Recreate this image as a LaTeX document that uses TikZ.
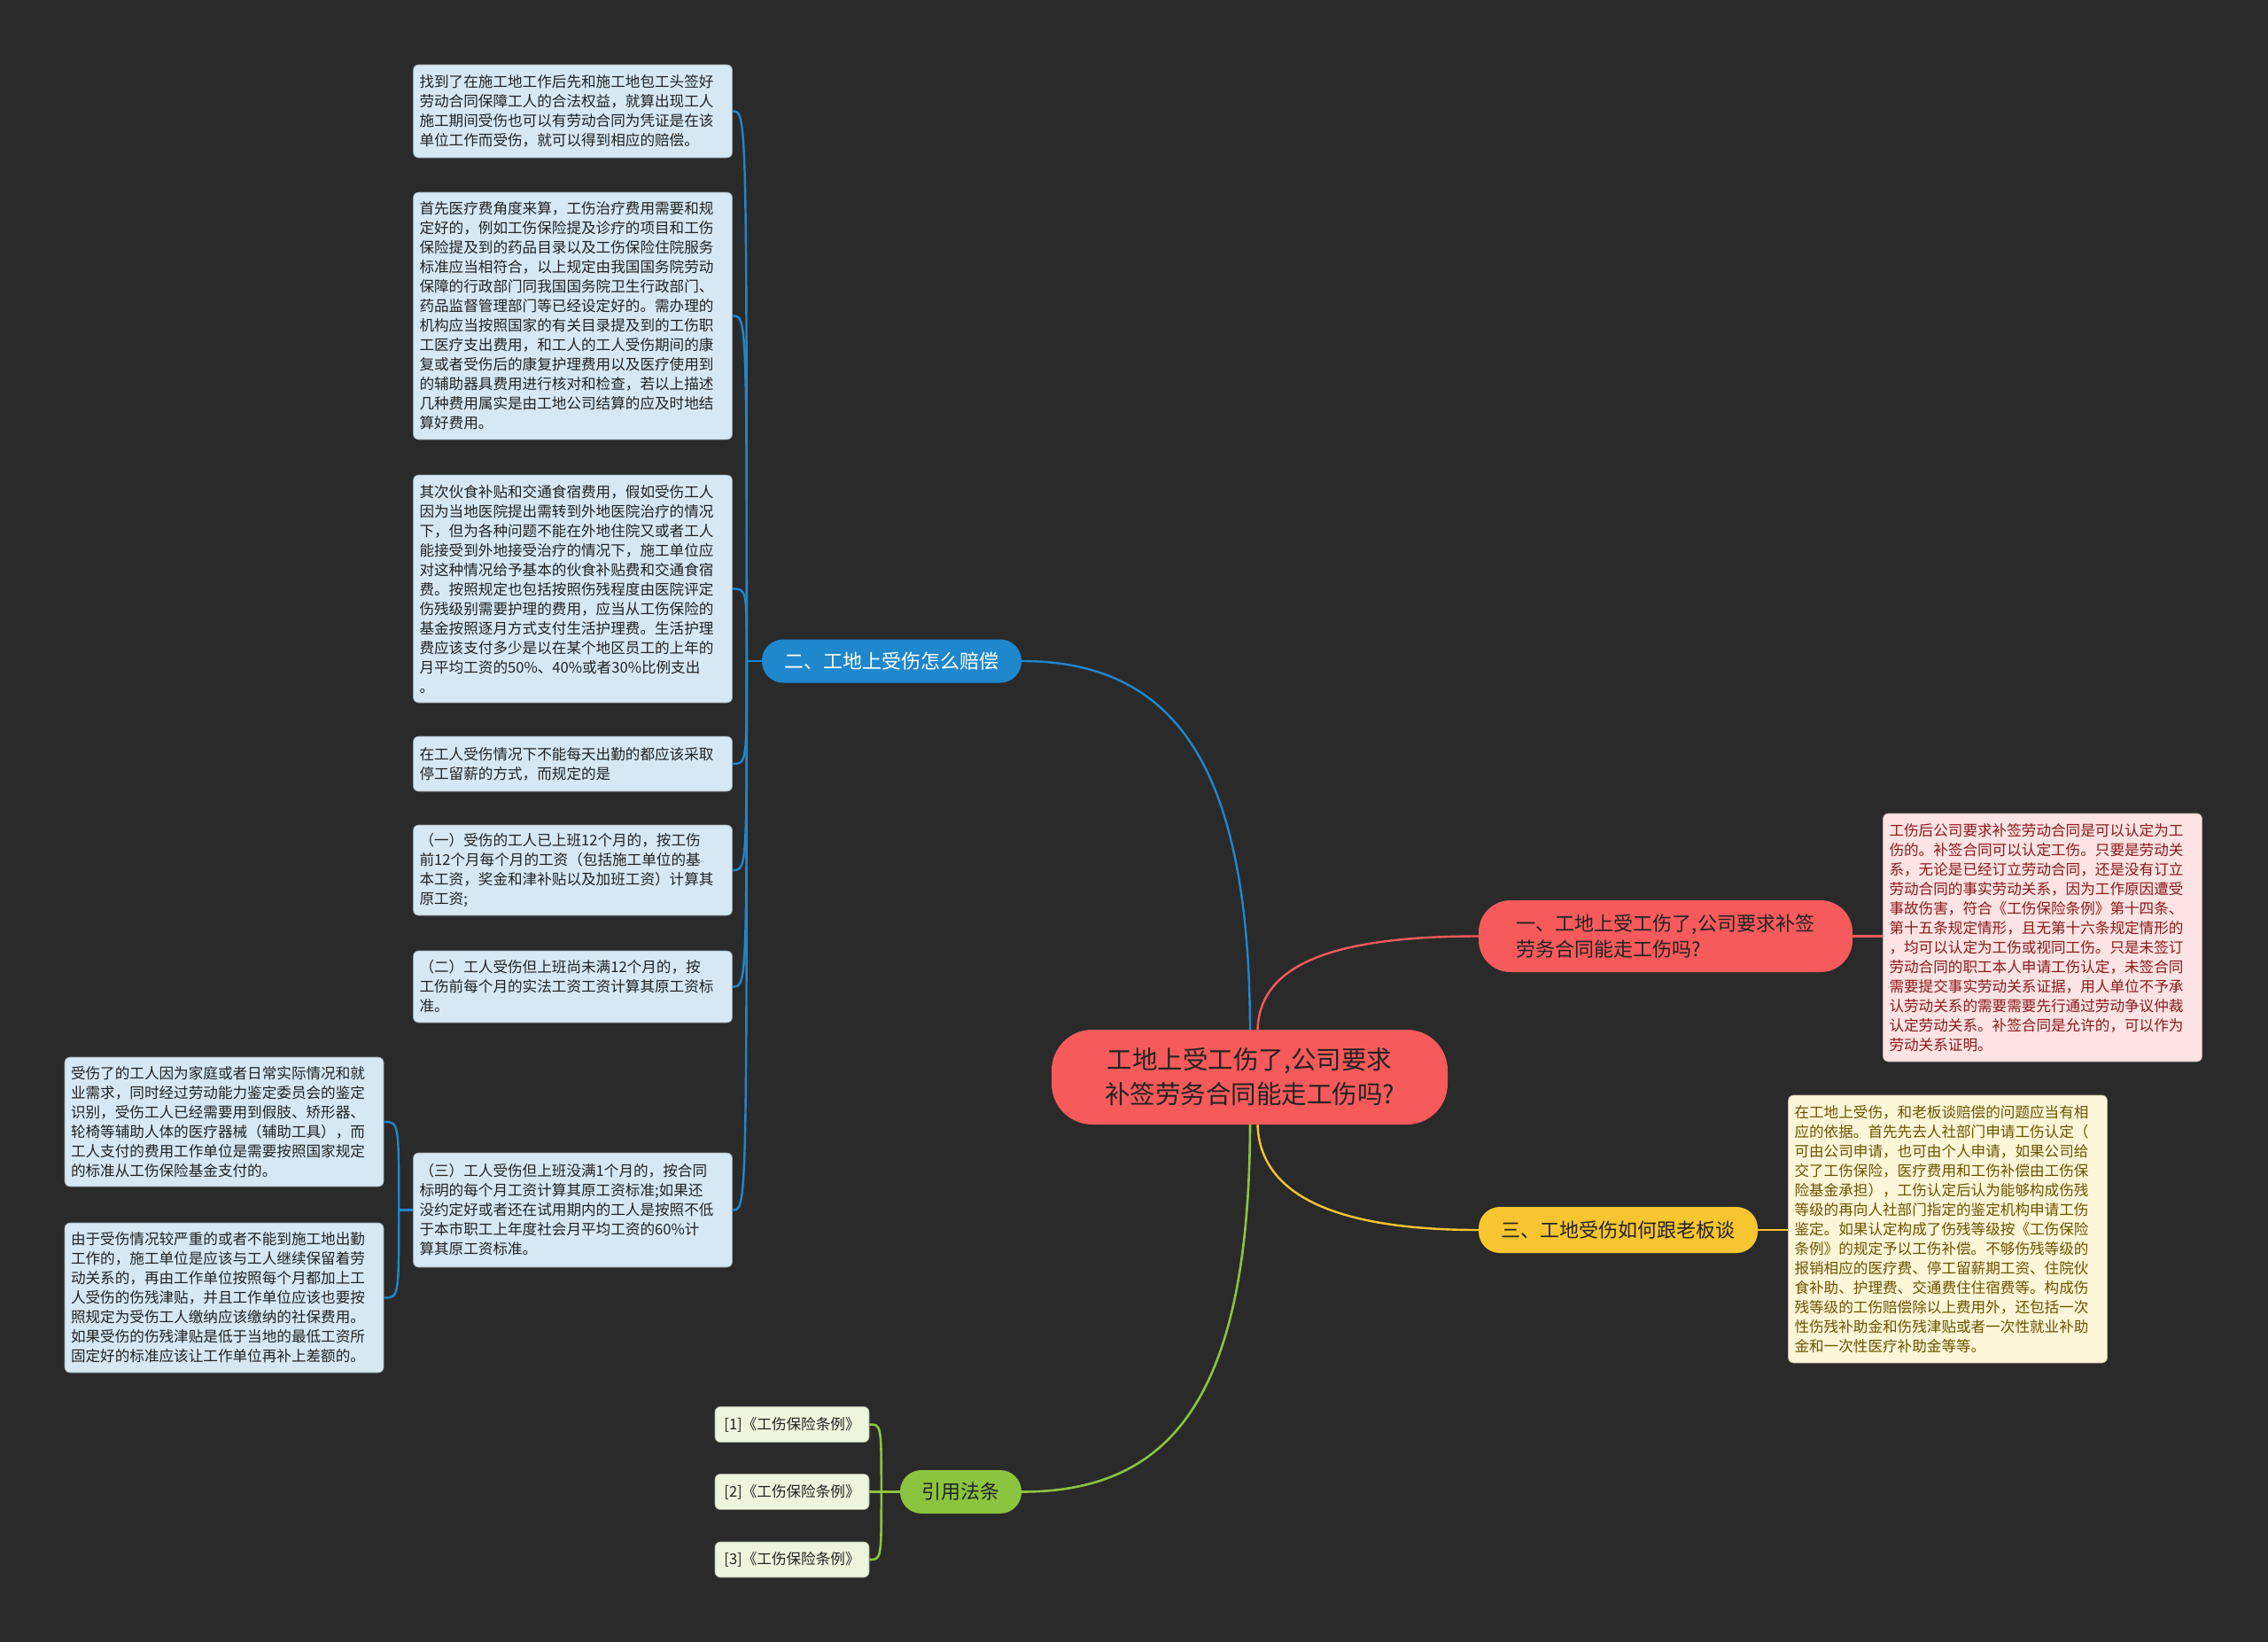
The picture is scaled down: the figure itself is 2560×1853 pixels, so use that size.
\documentclass[tikz,border=0pt]{standalone}
\usepackage{fontspec}
\newfontfamily\cjk{Noto Sans CJK SC}
\definecolor{bg}{HTML}{2A2A2A}
\definecolor{cred}{HTML}{F65A5B}
\definecolor{cblue}{HTML}{1F87CC}
\definecolor{cyel}{HTML}{F7C52F}
\definecolor{cgreen}{HTML}{8BC43F}
\definecolor{lblue}{HTML}{D5E8F4}
\definecolor{lpink}{HTML}{FDE3E3}
\definecolor{lyel}{HTML}{FEF6D8}
\definecolor{lgreen}{HTML}{EEF5DD}
\definecolor{tpink}{HTML}{8B1A1A}
\definecolor{tyel}{HTML}{6B5300}
\definecolor{tdark}{HTML}{222222}
\tikzset{
  leafbox/.style={rounded corners=6pt, inner xsep=7pt, inner ysep=0pt, text width=346pt, align=left,
     font=\cjk\fontsize{16.6}{22}\selectfont, text=tdark},
  bleaf/.style={leafbox, fill=lblue, draw=lblue!70!black, line width=0.6pt},
  pleaf/.style={leafbox, fill=lpink, draw=lpink!75!black, line width=0.6pt, text=tpink},
  yleaf/.style={leafbox, fill=lyel, draw=lyel!75!black, line width=0.6pt, text=tyel},
  gleaf/.style={rounded corners=6pt, fill=lgreen, draw=lgreen!70!black, line width=0.6pt, minimum width=174pt, minimum height=40pt,
     inner sep=0pt, font=\cjk\fontsize{16.6}{22}\selectfont, text=tdark},
  branch/.style={rounded corners=24pt, inner sep=0pt, align=left, font=\cjk\fontsize{22}{29.5}\selectfont},
  bline/.style={cblue, line width=2.4pt},
  rline/.style={cred, line width=2.4pt},
  yline/.style={cyel, line width=2.4pt},
  gline/.style={cgreen, line width=2.6pt},
}
\begin{document}
\begin{tikzpicture}[x=1pt,y=-1pt]
\useasboundingbox (0,0) rectangle (2560,1853);
\fill[bg] (0,0) rectangle (2560,1853);

% center and branches
\node[branch, fill=cred, rounded corners=46pt, minimum width=447pt, minimum height=107pt, align=center,
  font=\cjk\fontsize{28.5}{39}\selectfont, text=tdark] (c) at (1410.5,1215.5) {工地上受工伤了,公司要求\\补签劳务合同能走工伤吗?};
\node[branch, fill=cblue, minimum width=293pt, minimum height=49pt, text=white, align=center] (b2) at (1006.5,746) {二、工地上受伤怎么赔偿};
\node[branch, fill=cred, minimum width=422pt, minimum height=81pt, rounded corners=36pt, text=tdark] (b1) at (1880,1056.5) {一、工地上受工伤了,公司要求补签\\劳务合同能走工伤吗?};
\node[branch, fill=cyel, minimum width=315pt, minimum height=52pt, text=tdark, align=center] (b3) at (1826.5,1388) {三、工地受伤如何跟老板谈};
\node[branch, fill=cgreen, minimum width=137pt, minimum height=49pt, text=tdark, align=center] (b4) at (1084.5,1683.5) {引用法条};

% blue leaves
\node[bleaf, minimum height=105pt] (l1) at (646.5,125.5) {找到了在施工地工作后先和施工地包工头签好\\劳动合同保障工人的合法权益，就算出现工人\\施工期间受伤也可以有劳动合同为凭证是在该\\单位工作而受伤，就可以得到相应的赔偿。};
\node[bleaf, minimum height=279pt] (l2) at (646.5,356.5) {首先医疗费角度来算，工伤治疗费用需要和规\\定好的，例如工伤保险提及诊疗的项目和工伤\\保险提及到的药品目录以及工伤保险住院服务\\标准应当相符合，以上规定由我国国务院劳动\\保障的行政部门同我国国务院卫生行政部门、\\药品监督管理部门等已经设定好的。需办理的\\机构应当按照国家的有关目录提及到的工伤职\\工医疗支出费用，和工人的工人受伤期间的康\\复或者受伤后的康复护理费用以及医疗使用到\\的辅助器具费用进行核对和检查，若以上描述\\几种费用属实是由工地公司结算的应及时地结\\算好费用。};
\node[bleaf, minimum height=257pt] (l3) at (646.5,664.5) {其次伙食补贴和交通食宿费用，假如受伤工人\\因为当地医院提出需转到外地医院治疗的情况\\下，但为各种问题不能在外地住院又或者工人\\能接受到外地接受治疗的情况下，施工单位应\\对这种情况给予基本的伙食补贴费和交通食宿\\费。按照规定也包括按照伤残程度由医院评定\\伤残级别需要护理的费用，应当从工伤保险的\\基金按照逐月方式支付生活护理费。生活护理\\费应该支付多少是以在某个地区员工的上年的\\月平均工资的50\%、40\%或者30\%比例支出\\。};
\node[bleaf, minimum height=62pt] (l4) at (646.5,862) {在工人受伤情况下不能每天出勤的都应该采取\\停工留薪的方式，而规定的是};
\node[bleaf, minimum height=102pt] (l5) at (646.5,982) {（一）受伤的工人已上班12个月的，按工伤\\前12个月每个月的工资（包括施工单位的基\\本工资，奖金和津补贴以及加班工资）计算其\\原工资;};
\node[bleaf, minimum height=81pt] (l6) at (646.5,1113.5) {（二）工人受伤但上班尚未满12个月的，按\\工伤前每个月的实法工资工资计算其原工资标\\准。};
\node[bleaf, minimum height=129pt] (l7) at (646.5,1365.5) {（三）工人受伤但上班没满1个月的，按合同\\标明的每个月工资计算其原工资标准;如果还\\没约定好或者还在试用期内的工人是按照不低\\于本市职工上年度社会月平均工资的60\%计\\算其原工资标准。};

% second level leaves
\node[bleaf, minimum height=146pt] (m1) at (253,1266) {受伤了的工人因为家庭或者日常实际情况和就\\业需求，同时经过劳动能力鉴定委员会的鉴定\\识别，受伤工人已经需要用到假肢、矫形器、\\轮椅等辅助人体的医疗器械（辅助工具），而\\工人支付的费用工作单位是需要按照国家规定\\的标准从工伤保险基金支付的。};
\node[bleaf, minimum height=169pt] (m2) at (253,1464.5) {由于受伤情况较严重的或者不能到施工地出勤\\工作的，施工单位是应该与工人继续保留着劳\\动关系的，再由工作单位按照每个月都加上工\\人受伤的伤残津贴，并且工作单位应该也要按\\照规定为受伤工人缴纳应该缴纳的社保费用。\\如果受伤的伤残津贴是低于当地的最低工资所\\固定好的标准应该让工作单位再补上差额的。};

% pink leaf
\node[pleaf, minimum height=280pt] (p1) at (2305.5,1058) {工伤后公司要求补签劳动合同是可以认定为工\\伤的。补签合同可以认定工伤。只要是劳动关\\系，无论是已经订立劳动合同，还是没有订立\\劳动合同的事实劳动关系，因为工作原因遭受\\事故伤害，符合《工伤保险条例》第十四条、\\第十五条规定情形，且无第十六条规定情形的\\，均可以认定为工伤或视同工伤。只是未签订\\劳动合同的职工本人申请工伤认定，未签合同\\需要提交事实劳动关系证据，用人单位不予承\\认劳动关系的需要需要先行通过劳动争议仲裁\\认定劳动关系。补签合同是允许的，可以作为\\劳动关系证明。};

% yellow leaf
\node[yleaf, minimum height=302pt] (y1) at (2198.5,1387) {在工地上受伤，和老板谈赔偿的问题应当有相\\应的依据。首先先去人社部门申请工伤认定（\\可由公司申请，也可由个人申请，如果公司给\\交了工伤保险，医疗费用和工伤补偿由工伤保\\险基金承担），工伤认定后认为能够构成伤残\\等级的再向人社部门指定的鉴定机构申请工伤\\鉴定。如果认定构成了伤残等级按《工伤保险\\条例》的规定予以工伤补偿。不够伤残等级的\\报销相应的医疗费、停工留薪期工资、住院伙\\食补助、护理费、交通费住住宿费等。构成伤\\残等级的工伤赔偿除以上费用外，还包括一次\\性伤残补助金和伤残津贴或者一次性就业补助\\金和一次性医疗补助金等等。};

% law leaves
\node[gleaf] (g1) at (894,1607.5) {[1]《工伤保险条例》};
\node[gleaf] (g2) at (894,1683.5) {[2]《工伤保险条例》};
\node[gleaf] (g3) at (894,1760) {[3]《工伤保险条例》};

% connectors from center
\draw[bline] ([xshift=0.5pt]c.north) .. controls (1410,870) and (1330,746) .. (b2.east);
\draw[rline] ([xshift=9pt]c.north) .. controls (1422,1090) and (1500,1056.5) .. (b1.west);
\draw[yline] ([xshift=9pt]c.south) .. controls (1422,1345) and (1500,1388) .. (b3.west);
\draw[gline] ([xshift=0.5pt]c.south) .. controls (1410,1580) and (1320,1683.5) .. (b4.east);

% trunk points
\coordinate (t2) at ([xshift=-17pt]b2.west);
\coordinate (t7) at ([xshift=-16pt]l7.west);
\coordinate (t4) at ([xshift=-21pt]b4.west);

% blue tree
\draw[bline] (b2.west) -- (t2);
\foreach \n in {l1,l2,l3,l4,l5,l6,l7}{
  \draw[bline] (t2) .. controls (t2 |- \n.east) and (t2 |- \n.east) .. (\n.east);
}
\draw[bline] (l7.west) -- (t7);
\foreach \n in {m1,m2}{
  \draw[bline] (t7) .. controls (t7 |- \n.east) and (t7 |- \n.east) .. (\n.east);
}
% green tree
\draw[gline] (b4.west) -- (t4);
\foreach \n in {g1,g2,g3}{
  \draw[gline] (t4) .. controls (t4 |- \n.east) and (t4 |- \n.east) .. (\n.east);
}
% leaves of 一 and 三
\draw[rline] (b1.east) -- (p1.west |- b1.east);
\draw[yline] (b3.east) -- (y1.west |- b3.east);
\end{tikzpicture}
\end{document}
